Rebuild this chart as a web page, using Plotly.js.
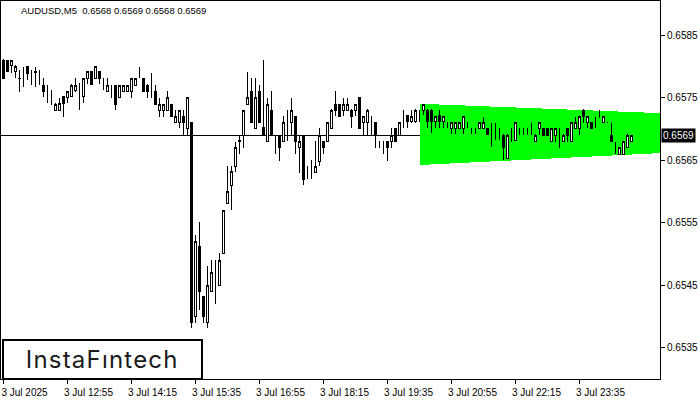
<!DOCTYPE html>
<html>
<head>
<meta charset="utf-8">
<script src="https://cdn.plot.ly/plotly-3.0.1.min.js"></script>
<style>html,body{margin:0;padding:0;background:#fff;}#chart{width:700px;height:400px;}
#chart svg path{shape-rendering:crispEdges;}</style>
</head>
<body>
<div id="chart"></div>
<script>
// ---- data ----
const openP = [0.65810,0.65809,0.65802,0.65791,0.65781,0.65791,0.65800,0.65781,0.65791,0.65781,
0.65770,0.65751,0.65741,0.65730,0.65730,0.65751,0.65750,0.65751,0.65762,0.65765,
0.65751,0.65781,0.65791,0.65781,0.65791,0.65781,0.65760,0.65770,0.65770,0.65750,
0.65760,0.65760,0.65760,0.65770,0.65791,0.65781,0.65770,0.65770,0.65760,0.65730,
0.65730,0.65730,0.65739,0.65710,0.65710,0.65719,0.65701,0.65710,0.65399,0.65511,
0.65431,0.65390,0.65439,0.65459,0.65450,0.65501,0.65581,0.65610,0.65640,0.65680,
0.65690,0.65739,0.65760,0.65700,0.65760,0.65702,0.65680,0.65730,0.65680,0.65690,
0.65680,0.65720,0.65710,0.65720,0.65670,0.65690,0.65630,0.65640,0.65630,0.65648,
0.65680,0.65680,0.65701,0.65739,0.65739,0.65730,0.65730,0.65730,0.65730,0.65750,
0.65710,0.65710,0.65720,0.65710,0.65680,0.65680,0.65680,0.65680,0.65701,0.65690,
0.65719,0.65722,0.65711,0.65711,0.65719,0.65730,0.65730,0.65730,0.65711,0.65722,
0.65711,0.65710,0.65701,0.65701,0.65701,0.65701,0.65710,0.65701,0.65701,0.65701,
0.65701,0.65701,0.65701,0.65701,0.65701,0.65690,0.65652,0.65690,0.65682,0.65701,
0.65701,0.65701,0.65701,0.65680,0.65701,0.65701,0.65701,0.65680,0.65690,0.65690,
0.65680,0.65701,0.65680,0.65701,0.65701,0.65730,0.65710,0.65710,0.65710,0.65719,
0.65710,0.65710,0.65690,0.65670,0.65659,0.65659,0.65670,0.65680];
const highP = [0.65811,0.65810,0.65810,0.65802,0.65794,0.65799,0.65800,0.65794,0.65799,0.65794,
0.65781,0.65770,0.65762,0.65741,0.65749,0.65751,0.65760,0.65771,0.65781,0.65773,
0.65782,0.65791,0.65791,0.65801,0.65791,0.65782,0.65781,0.65770,0.65770,0.65770,
0.65770,0.65770,0.65781,0.65782,0.65799,0.65782,0.65771,0.65790,0.65770,0.65750,
0.65739,0.65760,0.65740,0.65730,0.65730,0.65730,0.65750,0.65711,0.65530,0.65551,
0.65431,0.65480,0.65490,0.65490,0.65501,0.65570,0.65640,0.65640,0.65679,0.65690,
0.65730,0.65791,0.65781,0.65781,0.65770,0.65810,0.65750,0.65760,0.65690,0.65690,
0.65720,0.65730,0.65750,0.65720,0.65690,0.65690,0.65640,0.65650,0.65680,0.65701,
0.65680,0.65710,0.65731,0.65760,0.65740,0.65750,0.65750,0.65731,0.65740,0.65750,
0.65720,0.65731,0.65721,0.65710,0.65681,0.65681,0.65681,0.65701,0.65702,0.65711,
0.65730,0.65722,0.65730,0.65731,0.65730,0.65740,0.65731,0.65731,0.65720,0.65730,
0.65720,0.65711,0.65710,0.65710,0.65710,0.65720,0.65711,0.65702,0.65702,0.65710,
0.65719,0.65702,0.65710,0.65710,0.65702,0.65691,0.65691,0.65701,0.65711,0.65702,
0.65702,0.65702,0.65710,0.65691,0.65711,0.65702,0.65702,0.65702,0.65702,0.65701,
0.65691,0.65702,0.65711,0.65719,0.65720,0.65731,0.65720,0.65711,0.65719,0.65730,
0.65720,0.65711,0.65710,0.65679,0.65671,0.65680,0.65691,0.65690];
const lowP = [0.65780,0.65791,0.65789,0.65781,0.65759,0.65767,0.65778,0.65770,0.65767,0.65770,
0.65751,0.65741,0.65738,0.65730,0.65730,0.65719,0.65741,0.65751,0.65759,0.65730,
0.65741,0.65771,0.65770,0.65781,0.65771,0.65762,0.65759,0.65749,0.65730,0.65750,
0.65760,0.65760,0.65750,0.65770,0.65781,0.65759,0.65750,0.65750,0.65739,0.65719,
0.65719,0.65730,0.65719,0.65710,0.65701,0.65690,0.65690,0.65381,0.65390,0.65410,
0.65390,0.65381,0.65439,0.65419,0.65450,0.65500,0.65581,0.65570,0.65631,0.65659,
0.65670,0.65739,0.65710,0.65700,0.65710,0.65690,0.65680,0.65690,0.65659,0.65648,
0.65680,0.65680,0.65690,0.65659,0.65630,0.65610,0.65619,0.65619,0.65630,0.65640,
0.65659,0.65680,0.65700,0.65720,0.65719,0.65720,0.65730,0.65701,0.65720,0.65700,
0.65690,0.65690,0.65690,0.65670,0.65670,0.65659,0.65648,0.65670,0.65679,0.65689,
0.65701,0.65701,0.65709,0.65710,0.65711,0.65722,0.65701,0.65693,0.65701,0.65701,
0.65701,0.65701,0.65691,0.65691,0.65700,0.65691,0.65701,0.65691,0.65691,0.65700,
0.65700,0.65690,0.65671,0.65682,0.65682,0.65650,0.65651,0.65679,0.65681,0.65690,
0.65690,0.65690,0.65690,0.65679,0.65690,0.65689,0.65689,0.65679,0.65679,0.65670,
0.65679,0.65679,0.65679,0.65700,0.65690,0.65710,0.65701,0.65700,0.65701,0.65718,
0.65709,0.65709,0.65680,0.65659,0.65659,0.65659,0.65669,0.65680];
const closeP = [0.65781,0.65791,0.65810,0.65800,0.65780,0.65791,0.65789,0.65781,0.65790,0.65781,
0.65759,0.65751,0.65741,0.65739,0.65741,0.65741,0.65759,0.65770,0.65770,0.65765,
0.65781,0.65791,0.65771,0.65800,0.65781,0.65781,0.65770,0.65770,0.65739,0.65770,
0.65770,0.65770,0.65781,0.65781,0.65791,0.65760,0.65759,0.65770,0.65739,0.65739,
0.65739,0.65750,0.65719,0.65719,0.65730,0.65710,0.65750,0.65390,0.65520,0.65439,
0.65399,0.65450,0.65470,0.65459,0.65490,0.65569,0.65600,0.65631,0.65670,0.65681,
0.65730,0.65750,0.65710,0.65750,0.65710,0.65690,0.65739,0.65690,0.65680,0.65670,
0.65710,0.65720,0.65730,0.65680,0.65680,0.65619,0.65630,0.65640,0.65640,0.65690,
0.65670,0.65710,0.65730,0.65730,0.65720,0.65739,0.65739,0.65720,0.65739,0.65701,
0.65720,0.65730,0.65720,0.65690,0.65680,0.65680,0.65670,0.65690,0.65680,0.65710,
0.65719,0.65711,0.65719,0.65730,0.65719,0.65739,0.65711,0.65711,0.65719,0.65711,
0.65719,0.65710,0.65710,0.65710,0.65710,0.65719,0.65710,0.65701,0.65701,0.65710,
0.65710,0.65691,0.65701,0.65701,0.65701,0.65670,0.65690,0.65690,0.65710,0.65701,
0.65701,0.65701,0.65701,0.65690,0.65710,0.65690,0.65690,0.65701,0.65701,0.65690,
0.65690,0.65690,0.65710,0.65710,0.65719,0.65719,0.65719,0.65701,0.65710,0.65719,
0.65719,0.65710,0.65680,0.65670,0.65670,0.65679,0.65690,0.65690];
const barIndex = openP.map((_, i) => i);
const tickBars = [0, 16, 32, 48, 64, 80, 96, 112, 128, 144];
const tickLabels = ["3 Jul 2025","3 Jul 12:55","3 Jul 14:15","3 Jul 15:35","3 Jul 16:55","3 Jul 18:15","3 Jul 19:35","3 Jul 20:55","3 Jul 22:15","3 Jul 23:35"];
const priceTicks = [0.6535, 0.6545, 0.6555, 0.6565, 0.6575, 0.6585];
const currentPrice = 0.6569;
const patternBars = [104, 164.125];
const patternTop = [0.65740, 0.65725];
const patternBottom = [0.65642, 0.65661];
const titleText = "AUDUSD,M5  0.6568 0.6569 0.6568 0.6569";
const logoText = "InstaF\u0131ntech";

// ---- chart ----
const font = "Liberation Sans, Arial, sans-serif";
const trace = {
  type: 'candlestick', x: barIndex, open: openP, high: highP, low: lowP, close: closeP,
  increasing: {line: {color: '#000', width: 1}, fillcolor: '#fff'},
  decreasing: {line: {color: '#000', width: 1}, fillcolor: '#000'},
  whiskerwidth: 0, hoverinfo: 'skip', showlegend: false
};
const patternPath = 'M ' + patternBars[0] + ',' + patternTop[0] + ' L ' + patternBars[1] + ',' + patternTop[1] +
  ' L ' + patternBars[1] + ',' + patternBottom[1] + ' L ' + patternBars[0] + ',' + patternBottom[0] + ' Z';
const layout = {
  width: 700, height: 400,
  margin: {l: 1, r: 40, t: 1, b: 21},
  paper_bgcolor: '#fff', plot_bgcolor: '#fff',
  showlegend: false, boxgap: 0.5,
  font: {family: font, size: 10, color: '#000'},
  xaxis: {
    range: [-0.625, 164.125], rangeslider: {visible: false},
    tickmode: 'array', tickvals: tickBars, ticktext: tickLabels,
    ticks: 'outside', ticklen: 4, tickcolor: '#000', ticklabelshift: 21,
    showgrid: false, zeroline: false, showline: true, linecolor: '#000', linewidth: 1, mirror: true,
    tickfont: {family: font, size: 10, color: '#000'}, fixedrange: true
  },
  yaxis: {
    side: 'right', range: [0.652996, 0.659044],
    tickmode: 'array', tickvals: priceTicks, ticktext: priceTicks.map(v => v.toFixed(4)),
    ticks: 'outside', ticklen: 4, tickcolor: '#000',
    showgrid: false, zeroline: false, showline: true, linecolor: '#000', linewidth: 1, mirror: true,
    tickfont: {family: font, size: 10, color: '#000'}, fixedrange: true
  },
  shapes: [
    {type: 'path', path: patternPath, xref: 'x', yref: 'y', fillcolor: '#00ff00', line: {width: 0}, layer: 'below'},
    {type: 'line', xref: 'paper', x0: 0, x1: 1, yref: 'y', y0: currentPrice, y1: currentPrice, line: {color: '#000', width: 1}, layer: 'below'},
    {type: 'rect', xref: 'paper', yref: 'paper', x0: 0.0035, x1: 0.305, y0: 0.0, y1: 0.103, fillcolor: '#fff', line: {color: '#000', width: 2}, layer: 'above'}
  ],
  annotations: [
    {xref: 'paper', yref: 'paper', x: 0.0273, y: 0.976, xanchor: 'left', yanchor: 'middle', text: titleText, showarrow: false, font: {family: font, size: 9.5, color: '#000'}},
    {xref: 'paper', x: 1, xanchor: 'left', xshift: 1, yref: 'y', y: currentPrice, yanchor: 'middle', text: currentPrice.toFixed(4), showarrow: false, bgcolor: '#000', font: {family: font, size: 10, color: '#fff'}, borderpad: 1},
    {xref: 'paper', yref: 'paper', x: 0.154, y: 0.0516, xanchor: 'center', yanchor: 'middle', text: logoText, showarrow: false, font: {family: 'Inter, Lato, sans-serif', size: 24, weight: 400, color: '#1a1a1a'}}
  ]
};
Plotly.newPlot('chart', [trace], layout, {staticPlot: true, displayModeBar: false}).then(function () {
  const notes = document.querySelectorAll('#chart .annotation-text');
  if (notes.length > 2) notes[2].style.letterSpacing = '1.2px';
});
</script>
</body>
</html>
